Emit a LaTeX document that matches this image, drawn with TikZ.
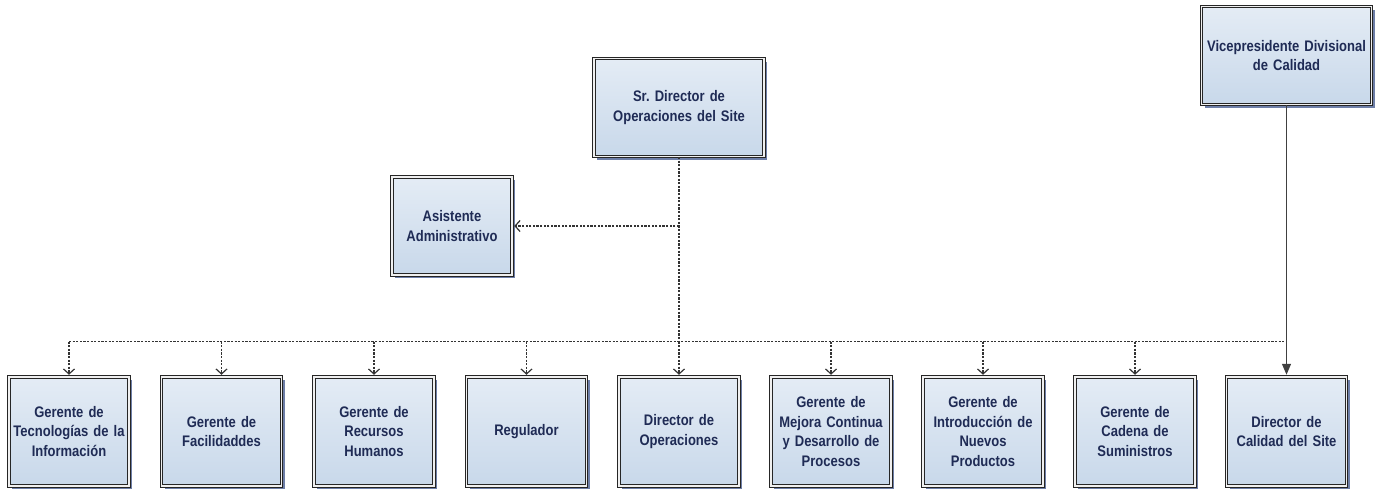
\documentclass[tikz,border=0pt]{standalone}
\usepackage{fontspec}
\newfontfamily\orgfont{Liberation Sans}[FakeStretch=0.85,WordSpace=0.8]
\usetikzlibrary{arrows.meta,shadows}
\frenchspacing

\definecolor{boxtop}{HTML}{E4ECF5}
\definecolor{boxbottom}{HTML}{C8D8EA}
\definecolor{boxshadow}{HTML}{6E7FA8}
\definecolor{boxtext}{HTML}{1F2B55}

\tikzset{
  orgbox/.style={rectangle, draw=black!85, double=white!88!gray, double distance=1.6pt,
    line width=0.9pt, top color=boxtop, bottom color=boxbottom,
    drop shadow={shadow xshift=3pt, shadow yshift=-3pt, fill=boxshadow, opacity=1},
    font=\orgfont\bfseries\fontsize{15.3}{19.5}\selectfont, text=boxtext, align=center,
    inner sep=2pt},
  lowbox/.style={orgbox, minimum width=117pt, minimum height=109pt, text width=116pt},
  topbox/.style={orgbox, minimum width=167pt, minimum height=98pt, text width=166pt},
  dashline/.style={draw=black!80, line width=1.3pt, dash pattern=on 2.2pt off 1.4pt},
  openhead/.style={-{Straight Barb[length=5pt,width=11pt,line width=1.2pt]}, shorten >=1.8pt},
  solidhead/.style={draw=black!75, line width=1.2pt, -{Triangle[length=11pt,width=9pt]}, shorten >=1.8pt}
}

\begin{document}
\begin{tikzpicture}[x=1pt,y=-1pt]

    \useasboundingbox (0,0) rectangle (1380,491);

    %top boxes:
    \node[topbox] (srdir) at (679,107.5) {Sr. Director de\\Operaciones del Site};
    \node[topbox] (vicepres) at (1286.5,55.5) {Vicepresidente Divisional\\de Calidad};
    \node[lowbox, minimum height=98pt] (asistente) at (452,226) {Asistente\\Administrativo};

    %bottom row:
    \node[lowbox] (tecnologias) at (69,431.5) {Gerente de\\Tecnologías de la\\Información};
    \node[lowbox] (facilidades) at (221.5,431.5) {Gerente de\\Facilidaddes};
    \node[lowbox] (recursos) at (374,431.5) {Gerente de\\Recursos\\Humanos};
    \node[lowbox] (regulador) at (526.5,431.5) {Regulador};
    \node[lowbox] (operaciones) at (679,431.5) {Director de\\Operaciones};
    \node[lowbox] (mejora) at (831,431.5) {Gerente de\\Mejora Continua\\y Desarrollo de\\Procesos};
    \node[lowbox] (introduccion) at (983,431.5) {Gerente de\\Introducción de\\Nuevos\\Productos};
    \node[lowbox] (cadena) at (1135,431.5) {Gerente de\\Cadena de\\Suministros};
    \node[lowbox] (calidad) at (1286.5,431.5) {Director de\\Calidad del Site};

    %dashed lines:
    \coordinate (busleft) at (69,341.5);
    \coordinate (busright) at (1286.5,341.5);
    \draw[dashline] (srdir.south) -- (srdir.south |- busleft);
    \draw[dashline] (busleft) -- (busright);
    \draw[dashline, openhead] (srdir.south |- asistente) -- (asistente.east);
    \foreach \n in {tecnologias,facilidades,recursos,regulador,operaciones,mejora,introduccion,cadena}
        \draw[dashline, openhead] (\n.north |- busleft) -- (\n.north);

    %solid line:
    \draw[solidhead] (vicepres.south) -- (calidad.north);

\end{tikzpicture}
\end{document}
